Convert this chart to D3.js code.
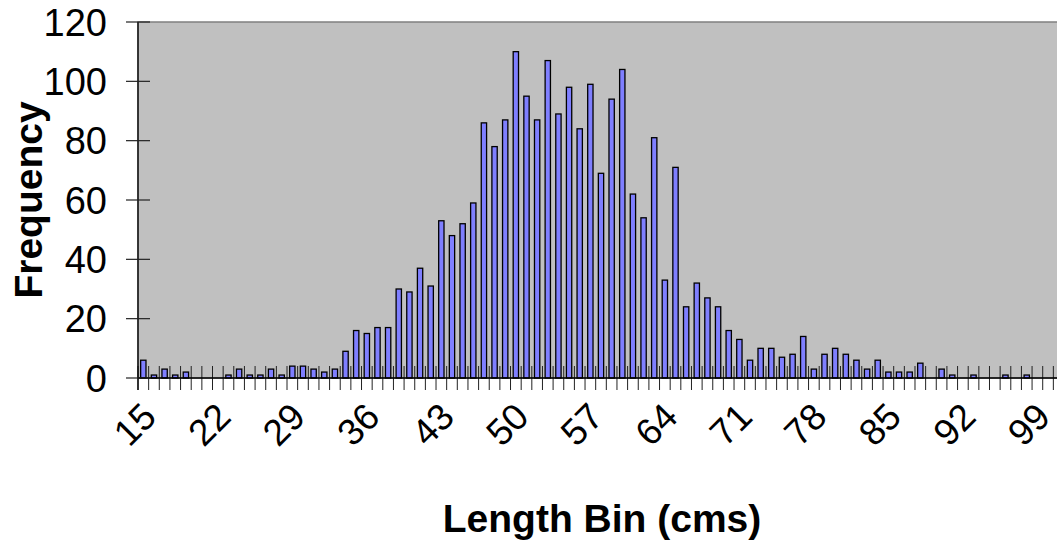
<!DOCTYPE html>
<html><head><meta charset="utf-8">
<script src="https://cdn.jsdelivr.net/npm/d3@7/dist/d3.min.js"></script>
<style>body{margin:0;background:#fff;overflow:hidden;} svg{display:block;}</style>
</head><body>
<svg id="chart" width="1057" height="544"></svg>
<script>
const categories = [15,16,17,18,19,20,21,22,23,24,25,26,27,28,29,30,31,32,33,34,35,36,37,38,39,40,
  41,42,43,44,45,46,47,48,49,50,51,52,53,54,55,56,57,58,59,60,61,62,63,64,65,66,67,68,69,70,
  71,72,73,74,75,76,77,78,79,80,81,82,83,84,85,86,87,88,89,90,91,92,93,94,95,96,97,98,99,100,101];
const frequencies = [6,1,3,1,2,0,0,0,1,3,1,1,3,1,4,4,3,2,3,9,16,15,17,17,30,29,
  37,31,53,48,52,59,86,78,87,110,95,87,107,89,98,84,99,69,94,104,62,54,81,33,71,24,32,27,24,16,
  13,6,10,10,7,8,14,3,8,10,8,6,3,6,2,2,2,5,0,3,1,0,1,0,0,1,0,1,0,0,0];
const yTicks = [0,20,40,60,80,100,120];
const xTickLabels = [15,22,29,36,43,50,57,64,71,78,85,92,99];
const xTitle = "Length Bin (cms)";
const yTitle = "Frequency";

const svg = d3.select("#chart");
const L = 138, R = 1064, T = 22, B = 378;
const font = "'Liberation Sans', Arial, sans-serif";

const x = d3.scaleBand().domain(categories).range([L, R]).paddingInner(0.5).paddingOuter(0.25);
const y = d3.scaleLinear().domain([0, 120]).range([B, T]);
const step = x.step();

// plot area
svg.append("rect").attr("x", L).attr("y", T).attr("width", R - L).attr("height", B - T)
  .attr("fill", "#c0c0c0").attr("stroke", "#808080").attr("stroke-width", 1.5);

// category boundary ticks (crossing the axis)
const bounds = categories.map(c => x(c) - step * 0.25).concat([x(categories[categories.length-1]) + step * 0.75]);
svg.append("g").selectAll("line").data(bounds).join("line")
  .attr("x1", d => d).attr("x2", d => d).attr("y1", B - 12).attr("y2", B + 12)
  .attr("stroke", "#222").attr("stroke-width", 1);

// bars
svg.append("g").selectAll("rect").data(frequencies.map((v, i) => ({c: categories[i], v})).filter(d => d.v > 0))
  .join("rect")
  .attr("x", d => x(d.c)).attr("width", x.bandwidth())
  .attr("y", d => y(d.v)).attr("height", d => B - y(d.v))
  .attr("fill", "#7f7fff").attr("stroke", "#000").attr("stroke-width", 1.3);

// axes lines
svg.append("line").attr("x1", L).attr("x2", L).attr("y1", T).attr("y2", B + 12)
  .attr("stroke", "#000").attr("stroke-width", 1.3);
svg.append("line").attr("x1", L).attr("x2", R).attr("y1", B).attr("y2", B)
  .attr("stroke", "#000").attr("stroke-width", 1.3);

// y ticks
const yg = svg.append("g");
yg.selectAll("line").data(yTicks).join("line")
  .attr("x1", L - 12).attr("x2", L + 12).attr("y1", d => y(d)).attr("y2", d => y(d))
  .attr("stroke", "#222").attr("stroke-width", 1.2);
yg.selectAll("text").data(yTicks).join("text")
  .attr("x", 107).attr("y", d => y(d)).attr("dy", "0.36em")
  .attr("text-anchor", "end").attr("font-family", font).attr("font-size", 38)
  .attr("fill", "#000").text(d => d);

// x tick labels
svg.append("g").selectAll("text").data(xTickLabels).join("text")
  .attr("transform", d => `translate(${x(d) + x.bandwidth() / 2 + 15},${419}) rotate(-45)`)
  .attr("text-anchor", "end").attr("font-family", font).attr("font-size", 37)
  .attr("fill", "#000").text(d => d);

// titles
svg.append("text").attr("x", 602).attr("y", 532).attr("text-anchor", "middle")
  .attr("font-family", font).attr("font-size", 39).attr("font-weight", "bold").text(xTitle);
svg.append("text").attr("transform", `translate(42,${(T + B) / 2}) rotate(-90)`)
  .attr("text-anchor", "middle").attr("font-family", font).attr("font-size", 39)
  .attr("font-weight", "bold").text(yTitle);
</script>
</body></html>
